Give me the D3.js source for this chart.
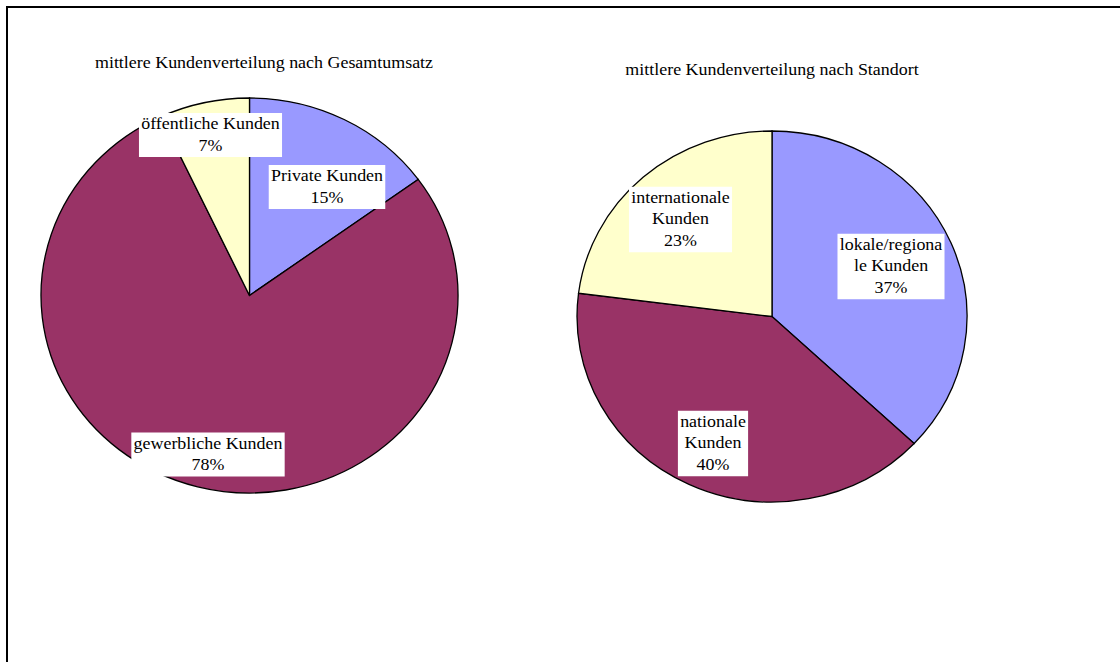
<!DOCTYPE html>
<html>
<head>
<meta charset="utf-8">
<script src="https://cdn.jsdelivr.net/npm/d3@7"></script>
<style>
  html, body { margin: 0; padding: 0; background: #fff; }
  svg { display: block; }
  text { font-family: "Liberation Serif", "Times New Roman", serif; fill: #000; }
</style>
</head>
<body>
<svg id="chart" width="1120" height="662"></svg>
<script>
// Kundenverteilung nach Gesamtumsatz
const umsatzCategories = ["Private Kunden", "gewerbliche Kunden", "öffentliche Kunden"];
const umsatzValues = [15, 78, 7];

// Kundenverteilung nach Standort
const standortCategories = ["lokale/regiona|le Kunden", "nationale|Kunden", "internationale|Kunden"];
const standortValues = [37, 40, 23];

const sliceColors = ["#9999FF", "#993366", "#FFFFCC"];

// the sheet is drawn slightly stretched horizontally
const stretchX = 1.055;
const fontSize = 17;

const svg = d3.select("#chart");

// outer frame
svg.append("rect")
  .attr("x", 7).attr("y", 7)
  .attr("width", 1300).attr("height", 1000)
  .attr("fill", "none").attr("stroke", "#000").attr("stroke-width", 2);

const pies = [
  {
    title: "mittlere Kundenverteilung nach Gesamtumsatz",
    titleX: 264, titleY: 68,
    cx: 249.5, cy: 295.5, rx: 208.5, ry: 197.5,
    categories: umsatzCategories, values: umsatzValues,
    labelOffsets: [[77.5, -108.5], [-41.5, 159], [-39, -160.5]]
  },
  {
    title: "mittlere Kundenverteilung nach Standort",
    titleX: 772, titleY: 75,
    cx: 772, cy: 316.5, rx: 195, ry: 185.5,
    categories: standortCategories, values: standortValues,
    labelOffsets: [[119, -50], [-59, 127], [-91.5, -97]]
  }
];

const pieGen = d3.pie().sort(null).value(d => d.value);

pies.forEach(p => {
  const data = p.categories.map((c, i) => ({ name: c, value: p.values[i] }));
  const arcs = pieGen(data);
  const arc = d3.arc().innerRadius(0).outerRadius(p.rx);

  svg.append("g")
    .attr("transform", `translate(${p.titleX},${p.titleY}) scale(${stretchX},1)`)
    .append("text")
    .attr("text-anchor", "middle")
    .style("font-size", fontSize + "px")
    .text(p.title);

  const g = svg.append("g")
    .attr("transform", `translate(${p.cx},${p.cy}) scale(1,${p.ry / p.rx})`);

  g.selectAll("path")
    .data(arcs)
    .join("path")
    .attr("d", arc)
    .attr("fill", (d, i) => sliceColors[i])
    .attr("stroke", "#000")
    .attr("stroke-width", 1.3)
    .attr("vector-effect", "non-scaling-stroke");

  // data labels in white boxes
  arcs.forEach((a, i) => {
    const lines = a.data.name.split("|").concat([a.data.value + "%"]);
    const lx = p.cx + p.labelOffsets[i][0];
    const ly = p.cy + p.labelOffsets[i][1];
    const lineH = 21.5;
    const boxH = lines.length * lineH + 1;
    const lg = svg.append("g")
      .attr("transform", `translate(${lx},${ly}) scale(${stretchX},1)`);
    const rect = lg.append("rect").attr("fill", "#fff");
    const t = lg.append("text")
      .attr("text-anchor", "middle")
      .style("font-size", fontSize + "px");
    lines.forEach((ln, k) => {
      t.append("tspan")
        .attr("x", 0)
        .attr("y", -boxH / 2 + 16 + k * lineH)
        .text(ln);
    });
    const bb = t.node().getBBox();
    rect.attr("x", -bb.width / 2 - 2)
      .attr("y", -boxH / 2)
      .attr("width", bb.width + 4)
      .attr("height", boxH);
  });
});
</script>
</body>
</html>
